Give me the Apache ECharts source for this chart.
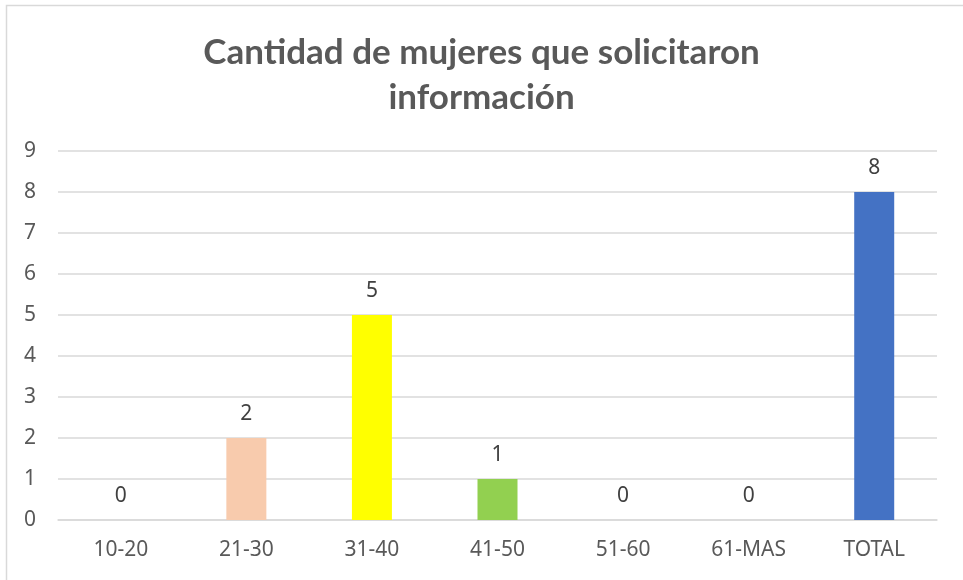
<!DOCTYPE html>
<html>
<head>
<meta charset="utf-8">
<script src="https://cdn.jsdelivr.net/npm/echarts@6/dist/echarts.min.js"></script>
<style>
html, body { margin: 0; padding: 0; background: #fff; }
#chart { width: 963px; height: 580px; }
</style>
</head>
<body>
<div id="chart"></div>
<script>
// rangos de edad y cantidades
const categories = ['10-20', '21-30', '31-40', '41-50', '51-60', '61-MAS', 'TOTAL'];
const values = [0, 2, 5, 1, 0, 0, 8];
const barColors = ['#5B9BD5', '#F8CBAD', '#FFFF00', '#92D050', '#A5A5A5', '#ED7D31', '#4472C4'];
const yTicks = [0, 1, 2, 3, 4, 5, 6, 7, 8, 9];

let myChart = echarts.init(document.getElementById('chart'));

let option = {
    animation: false,
    title: {
        text: 'Cantidad de mujeres que solicitaron\ninformación',
        left: 'center',
        top: 25,
        textStyle: {
            fontFamily: 'Lato',
            fontWeight: 'bold',
            fontSize: 35,
            lineHeight: 45,
            color: '#595959'
        }
    },
    graphic: [{
        type: 'rect',
        shape: { x: 6.5, y: 5.5, width: 960, height: 580 },
        style: { fill: 'none', stroke: '#D9D9D9', lineWidth: 1.5 },
        silent: true
    }],
    grid: {
        left: 58,
        right: 26,
        top: 151,
        bottom: 60
    },
    xAxis: {
        type: 'category',
        data: categories,
        axisTick: { show: false },
        axisLine: { lineStyle: { color: '#D9D9D9', width: 1.5 } },
        axisLabel: {
            color: '#595959',
            fontFamily: 'Noto Sans',
            fontSize: 21,
            margin: 20
        }
    },
    yAxis: {
        type: 'value',
        min: yTicks[0],
        max: yTicks[yTicks.length - 1],
        interval: 1,
        axisLine: { show: false },
        axisTick: { show: false },
        splitLine: { lineStyle: { color: '#D9D9D9', width: 1.5 } },
        axisLabel: {
            color: '#595959',
            fontFamily: 'Noto Sans',
            fontSize: 21,
            margin: 22
        }
    },
    series: [{
        type: 'bar',
        barWidth: 40,
        data: values.map((v, i) => ({ value: v, itemStyle: { color: barColors[i] } })),
        label: {
            show: true,
            position: 'top',
            distance: 13,
            color: '#404040',
            fontFamily: 'Noto Sans',
            fontSize: 21
        }
    }]
};
myChart.setOption(option);

window.addEventListener('resize', () => {
    myChart.resize()
})
</script>
</body>
</html>
